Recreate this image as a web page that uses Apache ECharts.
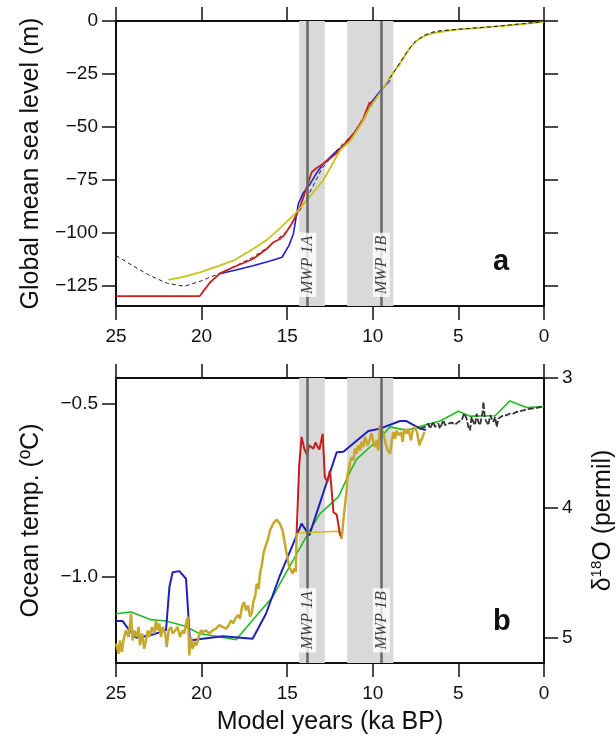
<!DOCTYPE html>
<html>
<head>
<meta charset="utf-8">
<script src="https://cdn.jsdelivr.net/npm/echarts@6.0.0/dist/echarts.min.js"></script>
<style>
  html, body { margin: 0; padding: 0; background: #fff; }
  #chart { width: 616px; height: 740px; }
</style>
</head>
<body>
<div id="chart"></div>
<script>
// ---- data (ka BP, value) ----
// panel a: global mean sea level (m)
var seaDashed = [[25,-110.7],[24,-115.6],[23,-120.2],[22,-123.8],[21,-125.2],[20,-122.6],[19,-119.3],[18,-115.5],[17,-111.5],[16,-106],[15,-99],[14,-86],[13,-70],[12,-60],[11,-52],[10,-39],[9,-27],[8.7,-23.2],[8.4,-19.5],[8,-14.5],[7.5,-9.5],[7,-6.8],[6.5,-5.3],[6,-4.6],[5,-3.9],[4,-3.3],[3,-2.7],[2,-1.9],[1,-1.1],[0,-0.3]];
var seaYellow = [[21.94,-122.2],[21,-120.6],[20.1,-118.6],[19,-115.6],[18.15,-113.1],[17,-107.6],[16.2,-103.4],[15.4,-97.6],[14.45,-90.2],[13.47,-80.8],[12.9,-75.3],[11.92,-61.1],[11.3,-56.4],[10.6,-47.5],[10.15,-40.6],[9.5,-33],[9,-26.5],[8.4,-20.1],[7.8,-12.3],[7.4,-9.1],[7,-7.2],[6.6,-6],[6.1,-5.2],[5.1,-4.1],[4,-3.4],[3.1,-2.8],[2,-2],[1,-1.2],[0,-0.4]];
var seaBlue = [[19,-119.4],[18,-117.5],[17,-115.5],[16,-113.3],[15.3,-111.5],[14.9,-106],[14.64,-100.5],[14.35,-86.3],[14.05,-81],[13.66,-76.9],[13.3,-72],[12.89,-67.4],[12.2,-62],[11.5,-57.5],[11.24,-54.5],[10.56,-47],[10,-37.5],[9.5,-32.5],[9,-28]];
var seaRed = [[25,-129.8],[23,-129.8],[20.1,-129.8],[19.85,-127],[19.5,-123.3],[18.92,-119.1],[18.15,-116.2],[17,-112.3],[16.2,-107.6],[15.8,-104.4],[15.42,-102.9],[15.2,-101.3],[14.74,-95.8],[14.25,-87.9],[13.57,-71.4],[13.3,-69.5],[12.89,-67.4],[11.92,-61.1],[11.73,-58.8],[11.04,-52.4],[10.56,-46.1],[10.2,-38.6],[10.0,-38.2]];

// panel b: ocean temperature (degC)
var tempGreen = [[25,-1.106],[24.12,-1.101],[22.96,-1.123],[22.08,-1.127],[21.0,-1.141],[20.13,-1.163],[19.16,-1.171],[17.99,-1.181],[16.53,-1.096],[15.85,-1.058],[15.42,-1.019],[14.45,-0.933],[13.67,-0.865],[13.08,-0.817],[12.01,-0.769],[11.33,-0.697],[10.94,-0.66],[10.16,-0.625],[9.58,-0.6],[9.0,-0.567],[8.02,-0.577],[7.05,-0.563],[6.07,-0.55],[5.0,-0.522],[4.32,-0.536],[2.86,-0.535],[1.99,-0.492],[1.01,-0.511],[0,-0.508]];
var tempBlue = [[25,-1.127],[24.61,-1.127],[24.22,-1.154],[23.83,-1.175],[23.0,-1.168],[22.08,-1.154],[21.88,-1.029],[21.69,-0.986],[21.3,-0.983],[20.91,-1.005],[20.68,-1.183],[19.94,-1.178],[18.77,-1.171],[17.02,-1.178],[16.24,-1.106],[15.42,-0.995],[14.16,-0.846],[13.71,-0.88],[12.11,-0.64],[11.72,-0.639],[10.26,-0.579],[9.58,-0.572],[8.41,-0.55],[8.06,-0.55],[7.24,-0.572],[6.9,-0.576]];
var tempRed = [[14.45,-0.875],[14.3,-0.68],[14.16,-0.596],[14.0,-0.63],[13.83,-0.649],[13.72,-0.62],[13.63,-0.615],[13.47,-0.63],[13.35,-0.612],[13.22,-0.625],[13.12,-0.632],[12.93,-0.587],[12.8,-0.712],[12.66,-0.726],[12.5,-0.692],[12.3,-0.813],[12.11,-0.82],[11.92,-0.875],[11.82,-0.889]];
var tempYellowGap = [[14.45,-0.873],[12.01,-0.868],[11.82,-0.889]];
var tempGoldEarly = [[25,-1.192],[24.84,-1.221],[24.77,-1.183],[24.65,-1.216],[24.57,-1.183],[24.42,-1.154],[24.26,-1.173],[24.12,-1.106],[24.03,-1.183],[23.93,-1.154],[23.79,-1.173],[23.68,-1.144],[23.6,-1.197],[23.48,-1.163],[23.35,-1.207],[23.25,-1.183],[23.15,-1.154],[23.05,-1.173],[22.9,-1.144],[22.76,-1.163],[22.66,-1.125],[22.57,-1.154],[22.47,-1.134],[22.37,-1.173],[22.27,-1.144],[22.12,-1.163],[22.04,-1.202],[21.92,-1.154],[21.79,-1.144],[21.69,-1.163],[21.53,-1.154],[21.4,-1.144],[21.26,-1.173],[21.11,-1.154],[21.01,-1.163],[20.87,-1.125],[20.79,-1.115],[20.72,-1.226],[20.62,-1.173],[20.52,-1.207],[20.4,-1.187],[20.29,-1.197],[20.17,-1.173],[20.04,-1.154],[19.9,-1.158],[19.74,-1.154],[19.55,-1.163],[19.35,-1.154],[19.16,-1.149],[18.96,-1.139],[18.77,-1.144],[18.57,-1.149],[18.42,-1.139],[18.28,-1.125],[18.15,-1.134],[18.03,-1.12],[17.89,-1.11],[17.76,-1.12],[17.64,-1.086],[17.52,-1.072],[17.41,-1.096],[17.29,-1.082],[17.17,-1.115],[17.06,-1.101],[16.98,-1.072],[16.86,-1.053],[16.78,-1.019],[16.67,-1.034],[16.59,-0.99],[16.47,-0.962],[16.39,-0.933],[16.28,-0.913],[16.14,-0.894],[16.0,-0.865],[15.82,-0.846],[15.62,-0.834],[15.43,-0.846],[15.27,-0.865],[15.07,-0.923],[14.88,-0.971],[14.68,-0.99],[14.58,-0.975],[14.49,-0.985],[14.45,-0.873]];
var tempGoldLate = [[11.82,-0.889],[11.72,-0.837],[11.53,-0.75],[11.47,-0.702],[11.37,-0.683],[11.33,-0.668],[11.23,-0.654],[11.13,-0.663],[11.04,-0.63],[10.95,-0.644],[10.85,-0.62],[10.75,-0.635],[10.65,-0.61],[10.55,-0.625],[10.46,-0.596],[10.3,-0.62],[10.16,-0.601],[10.07,-0.586],[9.97,-0.61],[9.87,-0.625],[9.77,-0.606],[9.68,-0.635],[9.58,-0.562],[9.48,-0.558],[9.38,-0.586],[9.25,-0.615],[9.13,-0.635],[8.99,-0.644],[8.9,-0.61],[8.8,-0.582],[8.7,-0.601],[8.61,-0.577],[8.51,-0.591],[8.35,-0.582],[8.26,-0.61],[8.16,-0.572],[8.02,-0.587],[7.92,-0.572],[7.77,-0.606],[7.67,-0.577],[7.54,-0.567],[7.42,-0.582],[7.28,-0.62],[7.18,-0.606],[7.09,-0.596],[6.99,-0.582]];
// benthic d18O (permil), right axis
var d18O = [[7.24,3.39],[6.95,3.377],[6.76,3.351],[6.66,3.39],[6.46,3.338],[6.37,3.377],[6.17,3.351],[6.08,3.39],[5.88,3.326],[5.78,3.364],[5.59,3.351],[5.39,3.344],[5.2,3.359],[5.0,3.338],[4.81,3.326],[4.67,3.274],[4.52,3.313],[4.42,3.377],[4.32,3.403],[4.23,3.3],[4.13,3.338],[4.03,3.364],[3.93,3.274],[3.84,3.338],[3.74,3.364],[3.58,3.261],[3.54,3.184],[3.45,3.313],[3.35,3.338],[3.25,3.364],[3.15,3.287],[3.06,3.313],[2.96,3.338],[2.86,3.3],[2.76,3.377],[2.67,3.313],[2.57,3.3],[2.38,3.287],[2.18,3.287],[1.99,3.274],[1.79,3.274],[1.6,3.261],[1.4,3.256],[1.21,3.249],[1.01,3.241],[0.72,3.236],[0.43,3.231],[0.14,3.223],[0,3.218]];

// meltwater pulses
var mwpBands = [[14.3, 12.8], [11.5, 8.8]];
var mwpLines = [13.8, 9.5];
var mwpNames = ['MWP 1A', 'MWP 1B'];

var seaTicks = [-125, -100, -75, -50, -25, 0];
var tempTicks = [-1.0, -0.5];
var d18OTicks = [3, 4, 5];

var chart = echarts.init(document.getElementById('chart'));

var ink = '#111';
function minus(s) { return s.replace('-', '\u2212'); }

function xAx(gridIndex, pos, labels, name) {
  return {
    type: 'value', gridIndex: gridIndex, position: pos, min: 0, max: 25, interval: 5, inverse: true,
    axisLine: { show: true, onZero: false, lineStyle: { color: ink, width: 2 } },
    axisTick: { show: true, length: 14, lineStyle: { color: ink, width: 1.5 } },
    axisLabel: { show: labels, margin: 21, fontSize: 19, color: ink },
    splitLine: { show: false },
    name: name || '', nameLocation: 'middle', nameGap: 47,
    nameTextStyle: { fontSize: 25, color: ink }
  };
}
function yAx(gridIndex, pos, min, max, ticks, fmt, name, extra) {
  var a = {
    type: 'value', gridIndex: gridIndex, position: pos, min: min, max: max,
    axisLine: { show: true, onZero: false, lineStyle: { color: ink, width: 2 } },
    axisTick: { show: true, length: 14, customValues: ticks, lineStyle: { color: ink, width: 1.5 } },
    axisLabel: { show: !!fmt, customValues: ticks, margin: 18, fontSize: 19, color: ink, formatter: fmt || '' },
    splitLine: { show: false },
    name: name || '', nameLocation: 'middle', nameGap: 72,
    nameTextStyle: { fontSize: 25, color: ink }
  };
  return Object.assign(a, extra || {});
}

function bands(xi, yi) {
  return {
    type: 'line', xAxisIndex: xi, yAxisIndex: yi, data: [], z: 1, silent: true,
    markArea: {
      silent: true, itemStyle: { color: '#d9d9d9' },
      data: mwpBands.map(function (b) { return [{ xAxis: b[0] }, { xAxis: b[1] }]; })
    },
    markLine: {
      silent: true, symbol: 'none', label: { show: false },
      lineStyle: { color: '#666', width: 2.5, type: 'solid' },
      data: mwpLines.map(function (x) { return { xAxis: x }; })
    }
  };
}
function line(xi, yi, data, color, width, dash, z) {
  return {
    type: 'line', xAxisIndex: xi, yAxisIndex: yi, data: data, showSymbol: false, symbol: 'none',
    lineStyle: { color: color, width: width, type: dash || 'solid' }, z: z || 3, silent: true
  };
}
function labels(xi, yi, yv) {
  return {
    type: 'scatter', xAxisIndex: xi, yAxisIndex: yi, z: 10, symbolSize: 1, silent: true,
    itemStyle: { color: 'rgba(0,0,0,0)' },
    labelLayout: { hideOverlap: false },
    data: mwpLines.map(function (x, i) { return [x, yv, mwpNames[i]]; }),
    label: {
      show: true, position: 'inside', rotate: 90, formatter: function (p) { return p.value[2]; },
      fontFamily: 'Liberation Serif', fontStyle: 'italic', fontSize: 16, color: ink,
      backgroundColor: '#fff', padding: [1, 3, 0, 3], lineHeight: 16
    }
  };
}

chart.setOption({
  animation: false,
  textStyle: { fontFamily: 'Liberation Sans' },
  grid: [
    { left: 116, top: 21, width: 428, height: 285, outerBoundsMode: 'none', containLabel: false },
    { left: 116, top: 378, width: 428, height: 285, outerBoundsMode: 'none', containLabel: false }
  ],
  xAxis: [
    xAx(0, 'bottom', true),
    xAx(0, 'top', false),
    xAx(1, 'bottom', true, 'Model years (ka BP)'),
    xAx(1, 'top', false)
  ],
  yAxis: [
    yAx(0, 'left', -134.5, 0, seaTicks, function (v) { return minus(String(v)); }, 'Global mean sea level (m)'),
    yAx(0, 'right', -134.5, 0, seaTicks, null),
    yAx(1, 'left', -1.248, -0.426, tempTicks, function (v) { return minus(v.toFixed(1)); }, 'Ocean temp. (\u00baC)'),
    yAx(1, 'right', 3, 5.196, d18OTicks, function (v) { return String(v); },
      '{n|\u03b4}{s|18}{n|O (permil)}',
      { inverse: true, nameGap: 45,
        nameTextStyle: { fontSize: 25, color: ink,
          rich: { n: { fontSize: 25, lineHeight: 29, color: ink }, s: { fontSize: 15, lineHeight: 15, verticalAlign: 'top', color: ink } } } })
  ],
  graphic: [
    { type: 'text', left: 493, top: 247, z: 20, style: { text: 'a', font: 'bold 29px "Liberation Sans"', fill: ink } },
    { type: 'text', left: 493, top: 607, z: 20, style: { text: 'b', font: 'bold 29px "Liberation Sans"', fill: ink } }
  ],
  series: [
    bands(0, 0),
    line(0, 0, seaDashed, '#222', 1, [4, 3]),
    line(0, 0, seaBlue, '#1f1fcc', 1.6),
    line(0, 0, seaRed, '#cc1f1f', 1.8),
    line(0, 0, seaYellow, '#c9c21d', 1.8),
    line(0, 0, seaDashed.filter(function (d) { return d[0] <= 9; }), '#222', 1, [4, 3], 4),
    labels(0, 0, -115.1),

    bands(2, 2),
    line(2, 2, tempGreen, '#22bb22', 1.6),
    line(2, 2, tempBlue, '#1f1fbb', 2),
    line(2, 2, tempYellowGap, '#c9c21d', 1.6),
    line(2, 2, tempRed, '#c41e1e', 2),
    line(2, 2, tempGoldEarly, '#c6a82a', 2.5),
    line(2, 2, tempGoldLate, '#c6a82a', 2.5),
    line(2, 3, d18O, '#333', 1.8, [6, 2]),
    labels(2, 2, -1.125)
  ]
});
</script>
</body>
</html>
